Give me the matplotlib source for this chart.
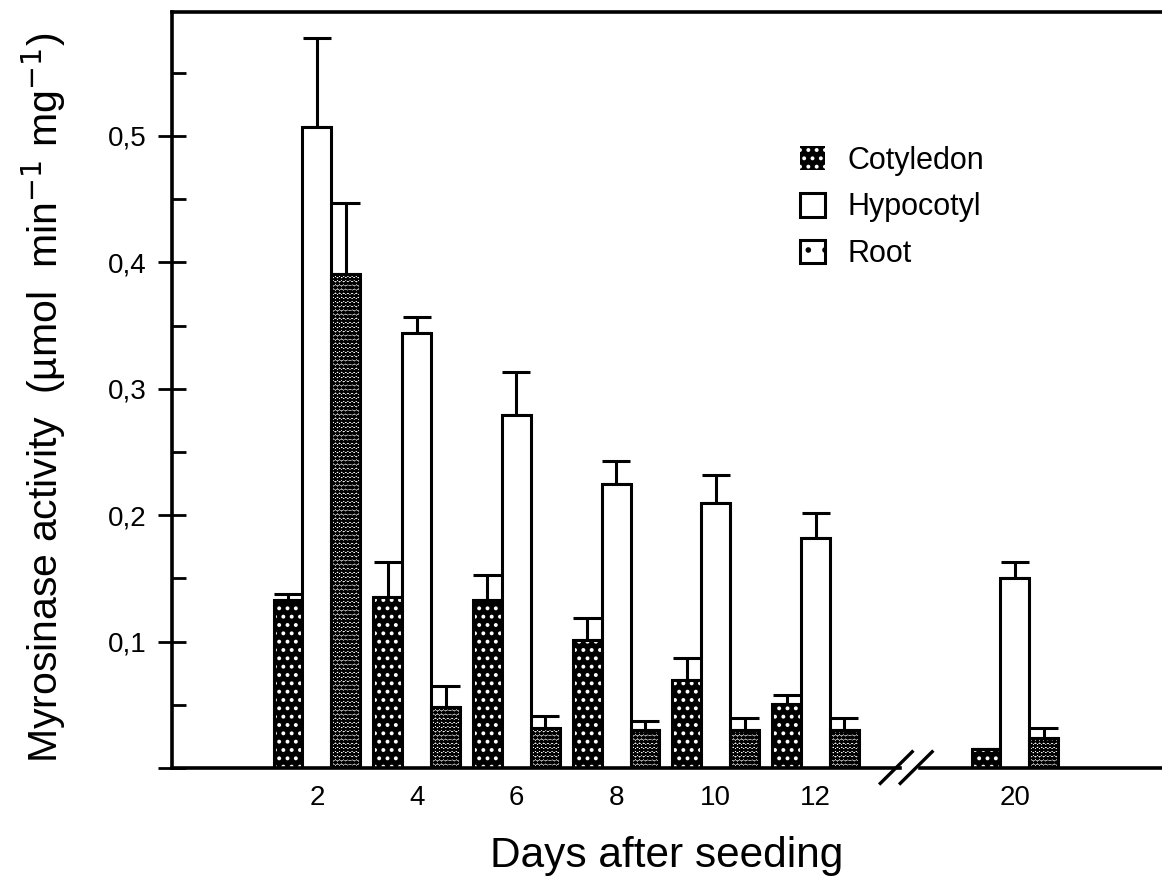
import matplotlib
matplotlib.use("Agg")
import matplotlib.pyplot as plt
from matplotlib.patches import Patch
from matplotlib.ticker import MultipleLocator, FuncFormatter
import numpy as np

plt.rcParams['font.family'] = ['Liberation Sans', 'DejaVu Sans']
plt.rcParams['hatch.linewidth'] = 1.6

# Werte
days = ["2", "4", "6", "8", "10", "12", "20"]
cotyledon = [0.133, 0.135, 0.133, 0.101, 0.070, 0.051, 0.015]
cotyledon_err = [0.005, 0.028, 0.020, 0.018, 0.017, 0.007, 0.0]
hypocotyl = [0.507, 0.344, 0.279, 0.225, 0.210, 0.182, 0.150]
hypocotyl_err = [0.070, 0.013, 0.034, 0.018, 0.022, 0.020, 0.013]
root = [0.391, 0.048, 0.032, 0.030, 0.030, 0.030, 0.024]
root_err = [0.056, 0.017, 0.009, 0.007, 0.010, 0.010, 0.008]

# Positionen der Gruppen (Achsenbruch zwischen 12 und 20)
pos = np.array([0, 1, 2, 3, 4, 5, 7], dtype=float)
w = 0.29

fig = plt.figure(figsize=(11.62, 8.84), dpi=100)
ax = fig.add_axes([0.148, 0.131, 0.852, 0.855])

err_kw = dict(fmt="none", ecolor="black", elinewidth=2.2, capsize=10, capthick=2.2, zorder=1)

# Keimblatt: schwarz mit weissen Punkten
ax.bar(pos - w, cotyledon, w, color="black", edgecolor="white", hatch="..", linewidth=0, zorder=2)
ax.bar(pos - w, cotyledon, w, fill=False, edgecolor="black", linewidth=2.2, zorder=3)
ax.errorbar(pos - w, cotyledon, yerr=[np.zeros(7), cotyledon_err], **err_kw)

# Hypokotyl: weiss
ax.bar(pos, hypocotyl, w, color="white", edgecolor="black", linewidth=2.2, zorder=3)
ax.errorbar(pos, hypocotyl, yerr=[np.zeros(7), hypocotyl_err], **err_kw)

# Wurzel: punktiert
ax.bar(pos + w, root, w, color="white", edgecolor="black", hatch="oooo", linewidth=0, zorder=2)
ax.bar(pos + w, root, w, fill=False, edgecolor="black", linewidth=2.2, zorder=3)
ax.errorbar(pos + w, root, yerr=[np.zeros(7), root_err], **err_kw)

ax.set_xlim(-1.454, 8.475)
ax.set_ylim(0, 0.5976)

ax.set_xticks(pos)
ax.set_xticklabels(days, fontsize=20)
ax.tick_params(axis="x", length=0, pad=12)

ax.yaxis.set_major_locator(MultipleLocator(0.1))
ax.yaxis.set_minor_locator(MultipleLocator(0.05))
ax.yaxis.set_major_formatter(FuncFormatter(lambda v, p: "" if v < 0.05 or v > 0.55 else f"{v:.1f}".replace(".", ",")))
ax.tick_params(axis="y", which="major", direction="inout", length=20, width=2, labelsize=20, pad=8)
ax.tick_params(axis="y", which="minor", direction="in", length=10, width=2)

for s in ["right", "bottom"]:
    ax.spines[s].set_visible(False)
ax.spines["left"].set_linewidth(2.6)
ax.spines["top"].set_linewidth(2.6)

# Grundlinie mit Achsenbruch
ax.plot([-1.454, 5.85], [0, 0], color="black", lw=2.6, clip_on=False, zorder=4)
ax.plot([6.05, 8.475], [0, 0], color="black", lw=2.6, clip_on=False, zorder=4)
for dx in [0.0, 0.2]:
    ax.plot([5.65 + dx, 5.97 + dx], [-0.012, 0.013], color="black", lw=2.4, clip_on=False, zorder=4)

ax.set_xlabel("Days after seeding", fontsize=30.5, labelpad=18)
ax.set_ylabel("Myrosinase activity  (µmol  min$^{-1}$ mg$^{-1}$)", fontsize=29.5)
ax.yaxis.set_label_coords(-0.105, 0.49)

handles = [
    Patch(facecolor="black", edgecolor="white", hatch="..", linewidth=0),
    Patch(facecolor="white", edgecolor="black", linewidth=2.2),
    Patch(facecolor="white", edgecolor="black", hatch=".", linewidth=2.2),
]
ax.legend(handles, ["Cotyledon", "Hypocotyl", "Root"], loc="upper left",
          bbox_to_anchor=(0.607, 0.86), frameon=False, fontsize=22,
          handlelength=0.8, handleheight=0.8, handletextpad=0.75, labelspacing=0.55)

fig.savefig("out.png", dpi=100)
